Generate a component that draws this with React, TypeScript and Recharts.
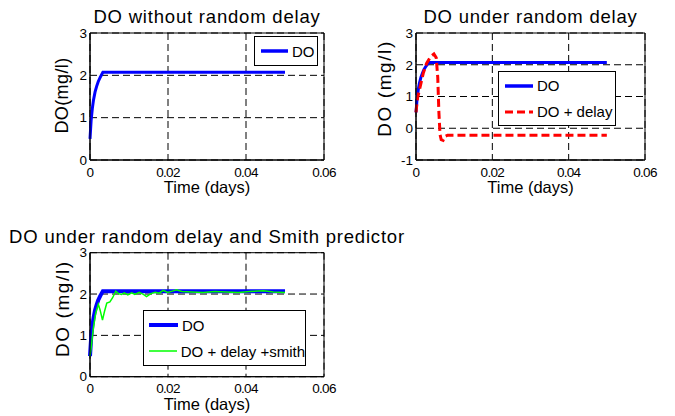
import React from 'react';
import { LineChart, Line, XAxis, YAxis, CartesianGrid, ReferenceArea, Legend } from 'recharts';

const FONT = '"Liberation Sans", Arial, Helvetica, sans-serif';

// shared time axis (days)
const timeTicks = [0, 0.02, 0.04, 0.06];

// DO without delay (blue)
const doTime = [0, 0.0003, 0.0006, 0.0009, 0.0013, 0.0017, 0.0021, 0.0026, 0.0033, 0.05];
const doValue = [0.5, 0.95, 1.22, 1.42, 1.61, 1.74, 1.85, 1.95, 2.07, 2.07];

// DO + random delay (red dashed)
const delayTime = [0, 0.0004, 0.001, 0.0019, 0.0028, 0.0038, 0.0047, 0.0053, 0.0057, 0.006, 0.0063, 0.0066, 0.0071, 0.0076, 0.0083, 0.05];
const delayValue = [0.5, 0.95, 1.26, 1.73, 2.05, 2.25, 2.34, 2.22, 1.6, 0.5, -0.2, -0.36, -0.38, -0.26, -0.22, -0.22];

// DO + delay + Smith predictor (green)
const smithTime = [0, 0.0003, 0.00085, 0.00145, 0.00214, 0.0026, 0.0032, 0.0037, 0.0043, 0.0051, 0.0058, 0.0066, 0.0073, 0.0081, 0.0088, 0.0097, 0.0107, 0.0115, 0.0126, 0.0137, 0.0145, 0.0156, 0.0167, 0.0177, 0.0188, 0.0199, 0.0211, 0.0222, 0.0235, 0.026, 0.029, 0.032, 0.035, 0.038, 0.041, 0.0445, 0.047, 0.05];
const smithValue = [0.5, 0.7, 1.17, 1.53, 1.75, 1.61, 1.37, 1.57, 1.78, 1.81, 1.91, 2.07, 2.01, 1.99, 2.03, 1.98, 2.03, 1.99, 2.04, 1.99, 1.94, 2.01, 2.04, 2.02, 2.09, 2.04, 2.07, 2.1, 2.06, 2.05, 2.04, 2.06, 2.05, 2.04, 2.06, 2.08, 2.05, 2.04];

const ticks03 = [0, 1, 2, 3];
const ticksM13 = [-1, 0, 1, 2, 3];

const toPoints = (t: number[], v: number[]) => t.map((x, i) => ({ t: x, v: v[i] }));

interface Series {
  name: string;
  points: { t: number; v: number }[];
  color: string;
  width: number;
  dash?: string;
  legendWidth?: number;
}

interface PanelProps {
  left: number;
  top: number;
  width: number;
  height: number;
  margin: { top: number; right: number; bottom: number; left: number };
  title: string;
  titleTop: number;
  yLabel: string;
  yLabelSize: number;
  yLabelSpacing: number;
  yLabelOffset: number;
  yLabelDy: number;
  xLabelOffset: number;
  yDomain: [number, number];
  yTicks: number[];
  series: Series[];
  legendBox: { left: number; top: number; width: number; height: number; pad: number; lineLen: number };
}

const LegendBox = ({ series, box }: { series: Series[]; box: PanelProps['legendBox'] }) => (
  <div
    style={{
      width: box.width,
      height: box.height,
      boxSizing: 'border-box',
      border: '1px solid #000',
      background: '#fff',
      display: 'flex',
      flexDirection: 'column',
      justifyContent: 'center',
      paddingLeft: box.pad,
      fontFamily: FONT,
      fontSize: 15,
      color: '#000',
    }}
  >
    {series.map((s) => (
      <div key={s.name} style={{ display: 'flex', alignItems: 'center', height: 26, whiteSpace: 'nowrap' }}>
        <svg width={box.lineLen} height={8} style={{ display: 'block' }}>
          <line x1={0} y1={4} x2={box.lineLen} y2={4} stroke={s.color} strokeWidth={s.legendWidth ?? s.width} strokeDasharray={s.dash} />
        </svg>
        <span style={{ marginLeft: 4 }}>{s.name}</span>
      </div>
    ))}
  </div>
);

const Panel = (p: PanelProps) => {
  const plotLeft = p.margin.left + 30;
  const plotWidth = p.width - plotLeft - p.margin.right;
  return (
    <div style={{ position: 'absolute', left: p.left, top: p.top, width: p.width, height: p.height }}>
      <div
        style={{
          position: 'absolute',
          left: plotLeft - 120,
          width: plotWidth + 240,
          top: p.titleTop,
          textAlign: 'center',
          whiteSpace: 'nowrap',
          fontFamily: FONT,
          fontSize: 18.5,
          lineHeight: '18px',
          letterSpacing: 0.8,
          color: '#000',
        }}
      >
        {p.title}
      </div>
      <LineChart width={p.width} height={p.height} margin={p.margin} style={{ position: 'absolute', left: 0, top: 0 }}>
        <CartesianGrid stroke="#000" strokeDasharray="7 4" />
        <XAxis
          dataKey="t"
          type="number"
          domain={[0, 0.06]}
          ticks={timeTicks}
          interval={0}
          height={36}
          tickSize={0}
          tickMargin={7}
          axisLine={{ stroke: '#000' }}
          tick={{ fill: '#000', fontSize: 13.5, fontFamily: FONT, letterSpacing: -0.7 }}
          label={{
            value: 'Time (days)',
            position: 'insideBottom',
            offset: p.xLabelOffset,
            fill: '#000',
            fontSize: 16.5,
            fontFamily: FONT,
          }}
        />
        <YAxis
          dataKey="v"
          type="number"
          domain={p.yDomain}
          ticks={p.yTicks}
          interval={0}
          width={30}
          tickSize={0}
          tickMargin={3}
          axisLine={{ stroke: '#000' }}
          tick={{ fill: '#000', fontSize: 13.5, fontFamily: FONT }}
          label={{
            value: p.yLabel,
            angle: -90,
            position: 'insideLeft',
            offset: p.yLabelOffset,
            dy: p.yLabelDy,
            fill: '#000',
            fontSize: p.yLabelSize,
            fontFamily: FONT,
            letterSpacing: p.yLabelSpacing,
            style: { textAnchor: 'middle' },
          }}
        />
        {p.series.map((s) => (
          <Line
            key={s.name}
            data={s.points}
            dataKey="v"
            name={s.name}
            type="linear"
            stroke={s.color}
            strokeWidth={s.width}
            strokeDasharray={s.dash}
            dot={false}
            activeDot={false}
            isAnimationActive={false}
          />
        ))}
        <ReferenceArea x1={0} x2={0.06} y1={p.yDomain[0]} y2={p.yDomain[1]} fill="none" fillOpacity={0} stroke="#000" strokeWidth={1} />
        <Legend
          layout="horizontal"
          verticalAlign="middle"
          align="center"
          wrapperStyle={{ left: p.legendBox.left, top: p.legendBox.top, width: p.legendBox.width, height: p.legendBox.height }}
          content={() => <LegendBox series={p.series} box={p.legendBox} />}
        />
      </LineChart>
    </div>
  );
};

const blueDO: Series = { name: 'DO', points: toPoints(doTime, doValue), color: '#0000ff', width: 3, legendWidth: 3.5 };

export default function App() {
  return (
    <div style={{ position: 'absolute', left: 0, top: 0, width: 675, height: 416, background: '#fff', overflow: 'hidden' }}>
      <Panel
        left={0}
        top={0}
        width={340}
        height={210}
        margin={{ top: 33, right: 16, bottom: 14, left: 60 }}
        title="DO without random delay"
        titleTop={7.5}
        yLabel="DO(mg/l)"
        yLabelSize={18}
        yLabelSpacing={0.4}
        yLabelOffset={2}
        yLabelDy={-1}
        xLabelOffset={3}
        yDomain={[0, 3]}
        yTicks={ticks03}
        series={[blueDO]}
        legendBox={{ left: 254, top: 36, width: 64, height: 30, pad: 6, lineLen: 27 }}
      />
      <Panel
        left={340}
        top={0}
        width={335}
        height={210}
        margin={{ top: 33, right: 30, bottom: 14, left: 46 }}
        title="DO under random delay"
        titleTop={7.5}
        yLabel="DO (mg/l)"
        yLabelSize={19}
        yLabelSpacing={1.6}
        yLabelOffset={-2}
        yLabelDy={-8}
        xLabelOffset={3}
        yDomain={[-1, 3]}
        yTicks={ticksM13}
        series={[
          blueDO,
          { name: 'DO + delay', points: toPoints(delayTime, delayValue), color: '#ff0000', width: 3, dash: '8 4' },
        ]}
        legendBox={{ left: 158, top: 71, width: 118, height: 55, pad: 6, lineLen: 28 }}
      />
      <Panel
        left={0}
        top={210}
        width={340}
        height={206}
        margin={{ top: 42.7, right: 16, bottom: 3.3, left: 60 }}
        title="DO under random delay and Smith predictor"
        titleTop={17.8}
        yLabel="DO (mg/l)"
        yLabelSize={19}
        yLabelSpacing={1.6}
        yLabelOffset={2}
        yLabelDy={-6}
        xLabelOffset={2.7}
        yDomain={[0, 3]}
        yTicks={ticks03}
        series={[
          { ...blueDO, width: 4, legendWidth: 4 },
          { name: 'DO + delay +smith', points: toPoints(smithTime, smithValue), color: '#00ff00', width: 1.5, legendWidth: 1.5 },
        ]}
        legendBox={{ left: 143, top: 100, width: 163, height: 56, pad: 5, lineLen: 29 }}
      />
    </div>
  );
}
